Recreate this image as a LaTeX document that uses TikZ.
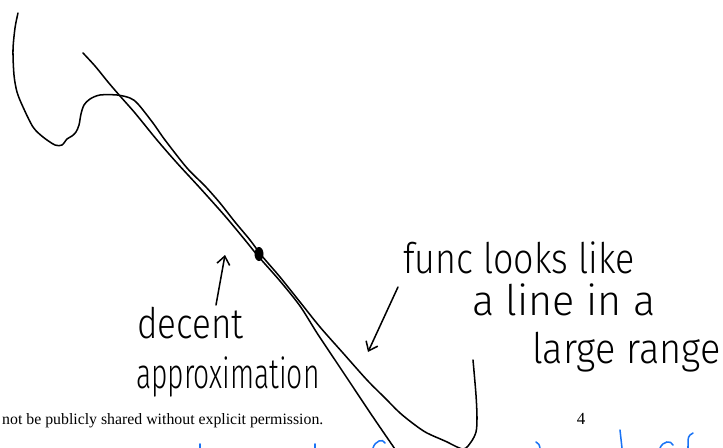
\documentclass[tikz,border=0pt]{standalone}
\usepackage{graphicx,tikz}
\usepackage{fontspec}
\setmainfont{Liberation Serif}
\newfontfamily\handfont{Fira Sans Light}
\usetikzlibrary{arrows.meta}
\definecolor{inkblue}{RGB}{25,115,245}
\newcommand{\scrawl}[2][0.85]{\scalebox{#1}[1]{#2}}
\tikzset{
  pen/.style={line width=1.3pt, line cap=round, line join=round},
  hand/.style={font=\handfont\fontsize{36}{36}\selectfont, inner sep=0pt, anchor=base west},
  barb/.style={pen, -{Straight Barb[length=7pt,width=11pt]}},
  bluepen/.style={line width=1.3pt, line cap=round, inkblue}
}
\begin{document}
\begin{tikzpicture}[x=0.03cm, y=-0.03cm]
			\useasboundingbox (0,0) rectangle (723,448);
			% the function
			\draw[pen] plot[smooth, tension=0.5] coordinates {(18,13) (15,28) (13,50) (14,75) (17,92) (23,107) (33,127) (43,137) (55,145) (62,145) (67,139) (72,136) (76,132) (79,125) (81,114) (84,105) (90,99) (100,95) (117,95) (130,98) (138,104) (153,123) (165,140) (187,168) (205,186) (220,203) (235,222) (250,240) (262,256) (280,277) (300,302) (320,327) (343,353) (367,380) (385,398) (400,413) (415,425) (427,433) (445,441) (463,449) (471,442) (476,432) (477,418) (476,395) (473,360)};
			% the tangent line
			\draw[pen] plot[smooth, tension=0.5] coordinates {(83,53) (95,66) (108,82) (120,96) (135,113) (157,140) (177,163) (200,188) (225,216) (245,240) (258,256) (280,281) (300,306) (317,333) (335,360) (353,387) (373,417) (397,452)};
			\fill (259,254) ellipse [x radius=4.5, y radius=7];
			% labels
			\node[hand] (decent) at (137,338) {\scrawl[0.83]{decent}};
			\node[hand] (approx) at (136,388) {\scrawl[0.67]{approximation}};
			\node[hand] (func) at (403,273) {\scrawl[0.85]{func looks like}};
			\node[hand] (line) at (472,315) {\scrawl[0.98]{a line in a}};
			\node[hand] (range) at (532,363) {\scrawl[0.9]{large range}};
			\coordinate (decenttail) at (216,305);
			\coordinate (decenttip) at (225,255);
			\coordinate (functail) at (398,287);
			\coordinate (functip) at (368,352);
			\draw[barb] (decenttail) -- (decenttip);
			\draw[barb] (functail) -- (functip);
			% page footer
			\node[font=\fontsize{13.5}{14}\selectfont, inner sep=0pt, anchor=base west] (footer) at (2,424) {not be publicly shared without explicit permission.};
			\node[font=\fontsize{14.5}{14}\selectfont, inner sep=0pt, anchor=base] (pagenum) at (581,424) {4};
			% next page ink
			\draw[bluepen] (200,444) -- (200,448);
			\draw[bluepen] (315,444) -- (315,448);
			\draw[bluepen] (373,448) .. controls (375,441) and (383,438) .. (385,443);
			\draw[bluepen] (536,442) .. controls (539,444) .. (540,448);
			\draw[bluepen] (620,430) -- (622,448);
			\draw[bluepen] (660,448) .. controls (663,441) and (671,440) .. (673,445);
			\draw[bluepen] (693,433) .. controls (688,436) .. (688,448);
			\end{tikzpicture}
\end{document}
